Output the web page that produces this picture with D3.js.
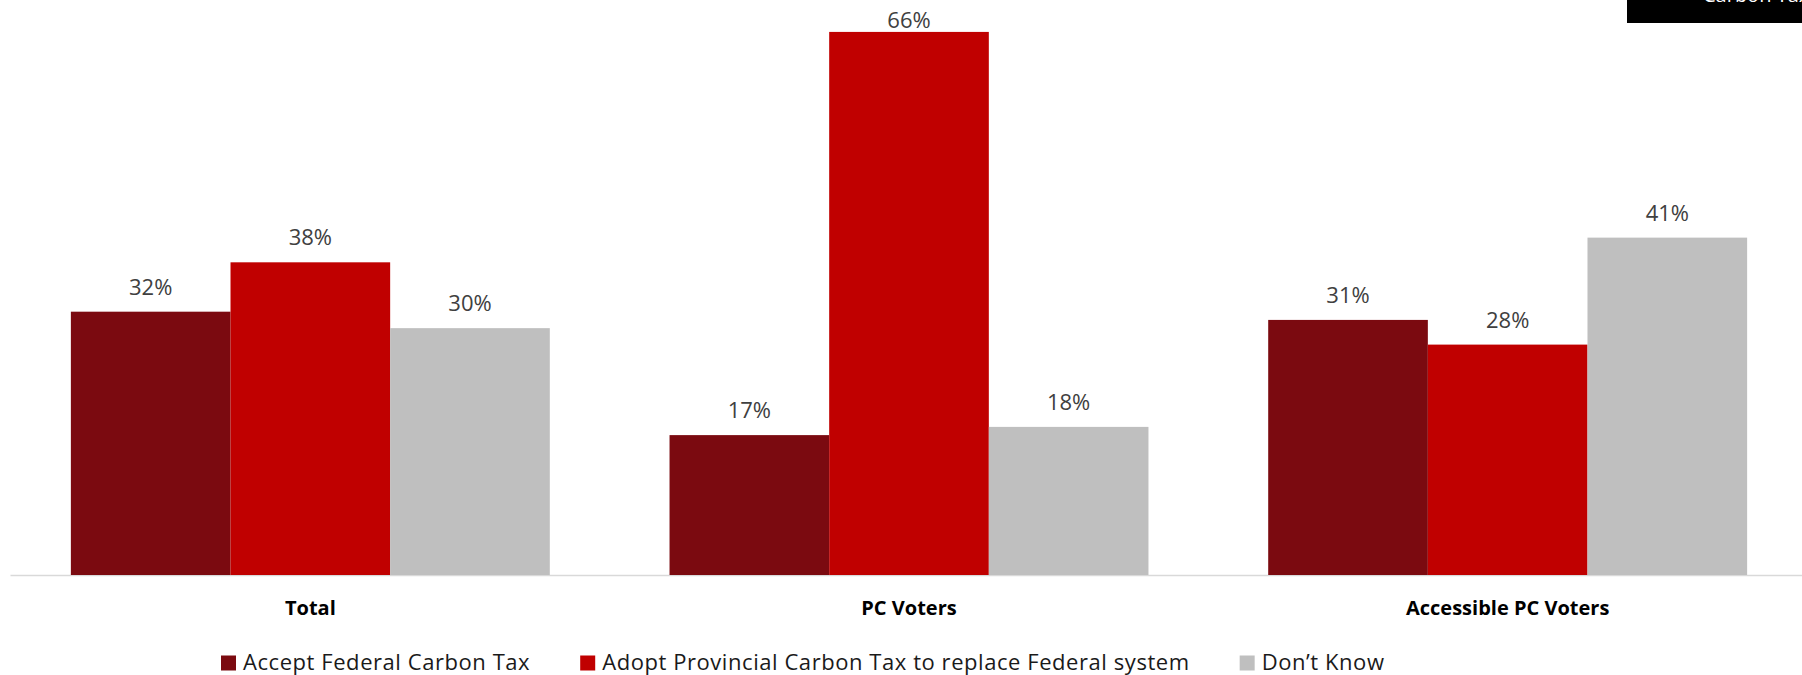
<!DOCTYPE html>
<html><head><meta charset="utf-8">
<script src="https://cdn.jsdelivr.net/npm/d3@7"></script>
<style>html,body{margin:0;padding:0;background:#fff;overflow:hidden}</style>
</head><body>
<svg id="chart" width="1802" height="675"></svg>
<script>
const categories = ["Total", "PC Voters", "Accessible PC Voters"];
const seriesNames = ["Accept Federal Carbon Tax", "Adopt Provincial Carbon Tax to replace Federal system", "Don\u2019t Know"];
const acceptFederal = [32, 17, 31];
const adoptProvincial = [38, 66, 28];
const dontKnow = [30, 18, 41];
const seriesColors = ["#7B0A10", "#C00000", "#BFBFBF"];
const headerText = "Carbon Tax";

const seriesValues = [acceptFederal, adoptProvincial, dontKnow];
const svg = d3.select("#chart");
const W = 1802, H = 675;
const baseY = 575;

const x0 = d3.scaleBand().domain(categories).range([11, 1807]).paddingInner(0.2).paddingOuter(0.1);
const x1 = d3.scaleBand().domain(seriesNames).range([0, x0.bandwidth()]).padding(0);
const y = d3.scaleLinear().domain([0, 70]).range([baseY, -1]);

// axis baseline
svg.append("line").attr("x1", 10.5).attr("x2", W).attr("y1", baseY + 0.5).attr("y2", baseY + 0.5)
  .attr("stroke", "#d9d9d9").attr("stroke-width", 1.6);

const rows = [];
categories.forEach((c, i) => seriesNames.forEach((s, j) => rows.push({c, s, j, v: seriesValues[j][i]})));

svg.append("g").selectAll("rect").data(rows).join("rect")
  .attr("x", d => x0(d.c) + x1(d.s))
  .attr("y", d => y(d.v))
  .attr("width", x1.bandwidth())
  .attr("height", d => y(0) - y(d.v))
  .attr("fill", d => seriesColors[d.j]);

svg.append("g").selectAll("text").data(rows).join("text")
  .attr("x", d => x0(d.c) + x1(d.s) + x1.bandwidth() / 2)
  .attr("y", d => Math.max(y(d.v) - 17, 28))
  .attr("text-anchor", "middle")
  .attr("font-family", "'Open Sans', sans-serif")
  .attr("font-size", 22)
  .attr("fill", "#404040")
  .text(d => d.v + "%");

// category axis labels
const xAxis = d3.axisBottom(x0).tickSize(0).tickPadding(0);
const gx = svg.append("g").attr("transform", `translate(0,${baseY})`).call(xAxis);
gx.select(".domain").remove();
gx.selectAll("text")
  .attr("dy", 0).attr("y", 40)
  .attr("font-family", "'Open Sans', sans-serif")
  .attr("font-size", 20).attr("font-weight", "bold")
  .attr("fill", "#000");

// legend
const leg = svg.append("g").attr("transform", "translate(221,0)");
let lx = 0;
seriesNames.forEach((s, j) => {
  leg.append("rect").attr("x", lx).attr("y", 655.5).attr("width", 15).attr("height", 15).attr("fill", seriesColors[j]);
  const t = leg.append("text").attr("x", lx + 22).attr("y", 669.5)
    .attr("font-family", "'Open Sans', sans-serif").attr("font-size", 22)
    .attr("letter-spacing", 0.56)
    .attr("fill", "#1a1a1a").text(s);
  lx += 22 + t.node().getComputedTextLength() + 50;
});

// header box (cut off at the top right)
svg.append("rect").attr("x", 1627).attr("y", 0).attr("width", W - 1627).attr("height", 23).attr("fill", "#000");
svg.append("text").attr("x", 1703).attr("y", 2)
  .attr("font-family", "'Open Sans', sans-serif").attr("font-size", 20)
  .attr("fill", "#fff").text(headerText);
</script>
</body></html>
